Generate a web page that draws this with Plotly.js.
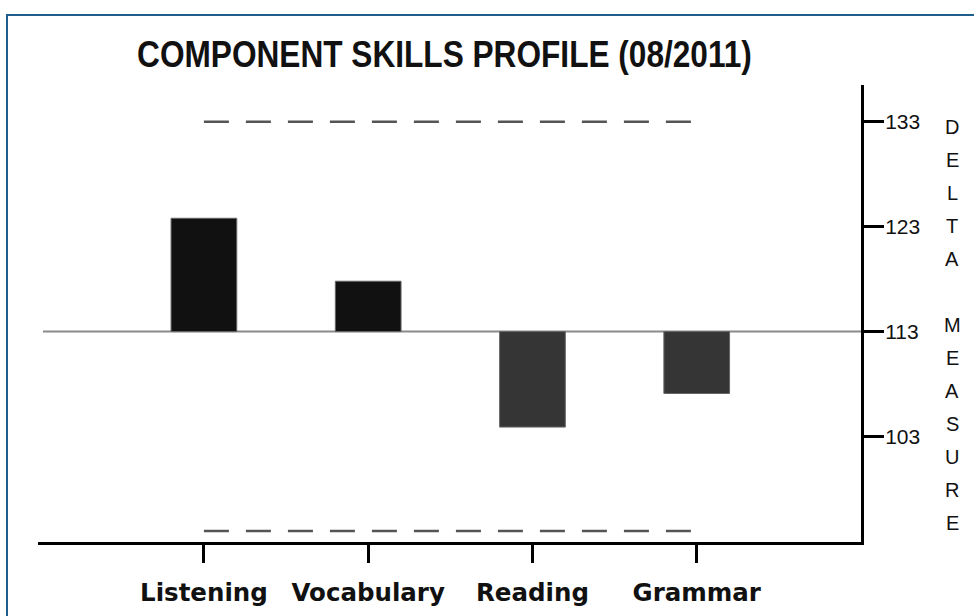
<!DOCTYPE html>
<html>
<head>
<meta charset="utf-8">
<script src="https://cdn.plot.ly/plotly-3.0.1.min.js"></script>
<style>html,body{margin:0;padding:0;background:#fff;}#chart{width:974px;height:616px;}</style>
</head>
<body>
<div id="chart"></div>
<script>
const categories = ["Listening", "Vocabulary", "Reading", "Grammar"];
const scores = [123.8, 117.8, 103.9, 107.1];
const baseline = 113;
const upperBand = 133;
const lowerBand = 94;
const yTicks = [103, 113, 123, 133];
const sideTitle = "DELTA MEASURE";

const barColors = scores.map(v => v >= baseline ? "#111111" : "#353535");

const traces = [
  {
    type: "bar",
    x: categories,
    y: scores.map(v => v - baseline),
    base: baseline,
    width: 0.4,
    marker: {color: barColors, line: {color: "#666", width: 1}},
    hoverinfo: "skip"
  },
  {
    type: "scatter", mode: "lines",
    x: [categories[0], categories[categories.length - 1]],
    y: [upperBand, upperBand],
    line: {color: "#555", width: 2.5, dash: "25px,17px"},
    hoverinfo: "skip"
  },
  {
    type: "scatter", mode: "lines",
    x: [categories[0], categories[categories.length - 1]],
    y: [lowerBand, lowerBand],
    line: {color: "#555", width: 2.5, dash: "25px,17px"},
    hoverinfo: "skip"
  }
];

// stacked side title letters
const letters = sideTitle.split("");
const annotations = [];
const plotTop = 85, plotH = 457;
letters.forEach((ch, i) => {
  if (ch === " ") return;
  const py = 127 + i * 33.0;
  annotations.push({
    xref: "paper", yref: "paper",
    x: (952 - 38) / 823, y: 1 - (py - plotTop) / plotH,
    xanchor: "center", yanchor: "middle",
    text: ch, showarrow: false,
    font: {family: "Liberation Sans, Arial, sans-serif", size: 20, color: "#111"}
  });
});

const layout = {
  width: 974, height: 616,
  margin: {l: 38, r: 113, t: 85, b: 74},
  paper_bgcolor: "#fff", plot_bgcolor: "#fff",
  showlegend: false,
  title: {
    text: "COMPONENT SKILLS PROFILE (08/2011)",
    font: {family: "Liberation Sans, Arial, sans-serif", size: 37, color: "#111", weight: "bold"},
    xref: "paper", x: (444.5 - 38) / 823, xanchor: "center",
    yref: "container", y: 1 - 54 / 616, yanchor: "middle"
  },
  xaxis: {
    type: "category",
    range: [-1.01, 4],
    showgrid: false, zeroline: false,
    showline: true, linecolor: "#000", linewidth: 3,
    ticks: "outside", ticklen: 18, tickwidth: 3, tickcolor: "#000",
    ticklabelstandoff: 9,
    tickfont: {family: "DejaVu Sans, Verdana, sans-serif", size: 24.5, color: "#111", weight: "bold"}
  },
  yaxis: {
    side: "right",
    range: [92.95, 136.5],
    showgrid: false, zeroline: false,
    showline: true, linecolor: "#000", linewidth: 3,
    ticks: "outside", ticklen: 20, tickwidth: 3, tickcolor: "#000",
    ticklabelstandoff: -3,
    tickvals: yTicks, ticktext: yTicks.map(String),
    tickfont: {family: "Liberation Sans, Arial, sans-serif", size: 21, color: "#111"}
  },
  shapes: [
    {type: "line", xref: "paper", x0: 0.006, x1: 1, yref: "y", y0: baseline, y1: baseline,
     line: {color: "#8a8a8a", width: 2}, layer: "below"},
    {type: "rect", xref: "paper", yref: "paper",
     x0: (7 - 38) / 823, x1: 1.3,
     y0: -0.3, y1: 1 + (85 - 15) / 457,
     line: {color: "#1f5e8c", width: 2}, fillcolor: "rgba(0,0,0,0)", layer: "below"}
  ],
  annotations: annotations
};

Plotly.newPlot("chart", traces, layout, {displayModeBar: false, staticPlot: true}).then(gd => {
  // condense the title horizontally to mimic the narrow typeface
  const t = gd.querySelector(".gtitle");
  if (t) {
    const bb = t.getBBox();
    const cx = bb.x + bb.width / 2;
    const s = 615 / bb.width;
    t.setAttribute("transform", `translate(${cx},0) scale(${s},1) translate(${-cx},0)`);
  }
});
</script>
</body>
</html>
